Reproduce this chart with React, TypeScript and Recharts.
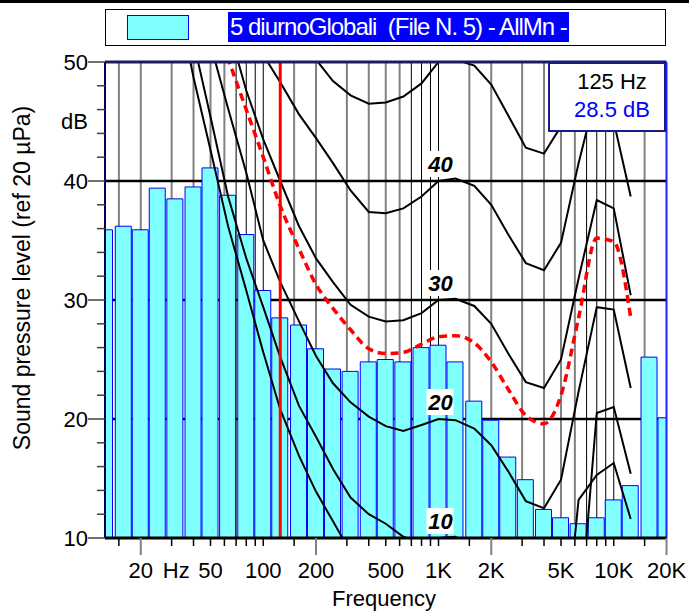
import React from "react";
import {
  ComposedChart,
  Bar,
  Line,
  XAxis,
  YAxis,
  CartesianGrid,
  ReferenceLine,
  ReferenceDot,
} from "recharts";

// 1/3 octave band centres (Hz)
const bands = [
  12.5, 16, 20, 25, 31.5, 40, 50, 63, 80, 100, 125, 160, 200, 250, 315, 400, 500,
  630, 800, 1000, 1250, 1600, 2000, 2500, 3150, 4000, 5000, 6300, 8000, 10000,
  12500, 16000, 20000,
];

// measured spectrum (dB)
const levels = [
  35.9, 36.2, 35.9, 39.4, 38.5, 39.5, 41.1, 38.8, 35.5, 30.8, 28.5, 27.9, 25.9,
  24.2, 24.0, 24.8, 25.0, 24.8, 26.0, 26.2, 24.8, 21.5, 19.9, 16.8, 14.9, 12.4,
  11.7, 11.2, 11.7, 13.2, 14.4, 25.2, 20.1,
];

// equal loudness contours (dB), same band order
const phon0 = [
  null, null, null, null, 56.2, 48.7, 42.6, 36.2, 30.8, 25.6, 20.8, 16.9, 13.9,
  11.4, 8.8, 6.5, 4.5, 3.0, 2.2, 2.4, 3.5, 1.7, -1.3, -4.2, -6.0, -5.4, -1.5,
  13.2, 15.3, 16.3, 11.6, null, null,
];
const phon10 = [
  null, null, null, null, 58, 51.7, 45.4, 38.7, 33.5, 29.4, 25.2, 21.1, 18.5,
  15.8, 13.4, 12.0, 11.2, 10.1, 9.6, 10.0, 10.1, 9.2, 7.8, 5.5, 3.0, 2.5, 5.0,
  2.0, 20.5, 21.0, 15.4, null, null,
];
const phon20 = [
  null, null, null, null, null, 57, 51.5, 46.1, 40.7, 35.0, 31.5, 28.2, 25.3,
  23.0, 21.4, 20.2, 19.4, 19.0, 19.5, 20.0, 19.9, 19.2, 17.8, 15.6, 13.1, 12.5,
  14.9, 22.3, 29.4, 29.2, 22.6, null, null,
];
const phon30 = [
  null, null, null, null, null, null, 58, 53, 47.6, 43.5, 40.0, 36.2, 33.5, 31.5,
  29.6, 28.6, 28.2, 28.3, 28.9, 30.0, 30.1, 29.5, 28.0, 25.5, 23.1, 22.6, 25.0,
  31.8, 38.4, 37.7, 30.4, null, null,
];
const phon40 = [
  null, null, null, null, null, null, null, 62, 56, 50.6, 48.3, 45.6, 43.6, 41.5,
  39.2, 37.4, 37.3, 37.7, 38.7, 40.0, 40.2, 39.6, 38.0, 35.5, 33.1, 32.5, 34.8,
  41.5, 47.6, 45.0, 38.7, null, null,
];
const phon50 = [
  null, null, null, null, null, null, null, null, null, null, 57, 53, 50.2, 48.4,
  47.2, 46.5, 46.6, 47.1, 48.2, 50.0, 50.2, 49.7, 48.1, 45.5, 42.8, 42.3, 44.6,
  51.5, 57, 55, 48.5, null, null,
];
// reference curve (red dashed)
const redCurve = [
  null, null, null, null, null, null, 54.6, 50.3, 46.0, 42.0, 37.9, 34.3, 31.3,
  29.3, 27.5, 25.9, 25.5, 25.6, 26.3, 26.9, 27.0, 26.4, 24.8, 22.5, 20.3, 19.6,
  22.0, 28.5, 35.2, 34.9, 28.5, null, null,
];

const contourKeys = ["p0", "p10", "p20", "p30", "p40", "p50"];
const labelledPhons = [10, 20, 30, 40];

const xTicks = [
  15, 20, 30, 40, 50, 60, 70, 80, 90, 100, 150, 200, 300, 400, 500, 600, 700, 800,
  900, 1000, 1500, 2000, 3000, 4000, 5000, 6000, 7000, 8000, 9000, 10000, 15000,
  20000,
];
const xLabelValues = [20, 50, 100, 200, 500, 1000, 2000, 5000, 10000, 20000];
const xLabelTexts = ["20", "50", "100", "200", "500", "1K", "2K", "5K", "10K", "20K"];
const longTicks = [20, 200, 2000, 20000];
const gridGray = [
  15, 20, 30, 40, 50, 60, 150, 200, 300, 400, 500, 600, 1500, 2000, 3000, 4000,
  5000, 6000, 15000,
];
const gridDark = [70, 80, 90, 100, 700, 800, 900, 1000, 7000, 8000, 9000, 10000];
const yTicks = [
  10, 12, 14, 16, 18, 20, 22, 24, 26, 28, 30, 32, 34, 36, 38, 40, 42, 44, 45, 46,
  48, 50,
];

const seriesName = "5 diurnoGlobali  (File N. 5) - AllMn -";
const cursorFreq = 125;

const data = bands.map((f, i) => ({
  f,
  level: levels[i],
  p0: phon0[i],
  p10: phon10[i],
  p20: phon20[i],
  p30: phon30[i],
  p40: phon40[i],
  p50: phon50[i],
  red: redCurve[i],
}));

const FONT = "'Liberation Sans', Arial, sans-serif";

function FreqTick({ x, y, v }: { x: number; y: number; v: number }) {
  const i = xLabelValues.indexOf(v);
  const long = longTicks.includes(v);
  return (
    <g>
      <line
        x1={x}
        x2={x}
        y1={y}
        y2={y + (long ? 17 : 8)}
        stroke={long ? "#808080" : "#000"}
        strokeWidth={long ? 2 : 1.5}
      />
      {i >= 0 && v === 20 && (
        <g fontFamily={FONT} fontSize={22} fill="#000">
          <text x={x} y={y + 40} textAnchor="middle">20</text>
          <text x={x + 22} y={y + 40}>Hz</text>
        </g>
      )}
      {i >= 0 && v !== 20 && (
        <text x={x} y={y + 40} textAnchor="middle" fontFamily={FONT} fontSize={22} fill="#000">
          {xLabelTexts[i]}
        </text>
      )}
    </g>
  );
}

function LevelTick({ x, y, v }: { x: number; y: number; v: number }) {
  if (v === 45) {
    return (
      <text x={x - 17} y={y} dy="0.36em" textAnchor="end" fontFamily={FONT} fontSize={22} fill="#000">
        dB
      </text>
    );
  }
  const major = v % 10 === 0;
  return (
    <g>
      <line x1={x - (major ? 17 : 8)} x2={x} y1={y} y2={y} stroke="#404040" strokeWidth={1.5} />
      {major && (
        <text x={x - 17} y={y} dy="0.36em" textAnchor="end" fontFamily={FONT} fontSize={22} fill="#000">
          {v}
        </text>
      )}
    </g>
  );
}

function PhonTag(props: any) {
  const { cx, cy, text } = props;
  const top = cy - 17;
  return (
    <g>
      <rect x={cx - 12} y={top - 13} width={27} height={26} fill="#fff" />
      <text
        x={cx + 2}
        y={top}
        dy="0.36em"
        textAnchor="middle"
        fontFamily={FONT}
        fontSize={22}
        fontWeight="bold"
        fontStyle="italic"
        fill="#000"
      >
        {text}
      </text>
    </g>
  );
}

export default function App() {
  const cursorLevel = levels[bands.indexOf(cursorFreq)];
  return (
    <div
      style={{
        position: "absolute",
        left: 0,
        top: 0,
        width: 689,
        height: 616,
        background: "#fff",
        fontFamily: FONT,
        overflow: "hidden",
      }}
    >
      <div style={{ position: "absolute", left: 0, top: 0, width: 689, height: 3, background: "#000" }} />

      <div
        style={{
          position: "absolute",
          left: 105,
          top: 9,
          width: 561,
          height: 37,
          border: "1px solid #000",
          boxSizing: "border-box",
          background: "#fff",
        }}
      >
        <div
          style={{
            position: "absolute",
            left: 21,
            top: 5,
            width: 62,
            height: 25,
            background: "#80FFFF",
            border: "1px solid #0000FF",
            boxSizing: "border-box",
          }}
        />
        <div
          style={{
            position: "absolute",
            left: 122,
            top: 2,
            height: 30,
            lineHeight: "30px",
            background: "#0000FF",
            color: "#fff",
            fontSize: 24,
            letterSpacing: -1,
            whiteSpace: "pre",
            padding: "0 2px",
          }}
        >
          {seriesName}
        </div>
      </div>

      <ComposedChart
        width={689}
        height={616}
        data={data}
        margin={{ top: 62, right: 22.5, bottom: 0, left: 0 }}
      >
        <CartesianGrid horizontal={false} verticalValues={gridGray} stroke="#808080" strokeWidth={2} />
        <CartesianGrid horizontal={false} verticalValues={gridDark} stroke="#000" strokeWidth={1} />
        <CartesianGrid vertical={false} horizontalValues={[20, 30, 40]} stroke="#000" strokeWidth={2.5} />
        <XAxis
          dataKey="f"
          type="number"
          scale="log"
          domain={[12.5, 20000]}
          allowDataOverflow
          ticks={xTicks}
          interval={0}
          tick={(p: any) => <FreqTick x={p.x} y={p.y} v={p.payload.value} />}
          tickSize={0}
          tickMargin={0}
          tickLine={false}
          axisLine={{ stroke: "#000", strokeWidth: 3 }}
          height={78}
        />
        <YAxis
          type="number"
          domain={[10, 50]}
          allowDataOverflow
          ticks={yTicks}
          interval={0}
          tick={(p: any) => <LevelTick x={p.x} y={p.y} v={p.payload.value} />}
          tickSize={0}
          tickMargin={0}
          tickLine={false}
          axisLine={{ stroke: "#000060", strokeWidth: 2 }}
          width={105}
        />
        <Bar
          dataKey="level"
          fill="#80FFFF"
          stroke="#0000FF"
          strokeWidth={1}
          barSize={16}
          isAnimationActive={false}
        />
        {contourKeys.map((k) => (
          <Line
            key={k}
            dataKey={k}
            type="linear"
            stroke="#000"
            strokeWidth={2}
            dot={false}
            isAnimationActive={false}
          />
        ))}
        <Line
          dataKey="red"
          type="monotone"
          stroke="#FF0000"
          strokeWidth={3.5}
          strokeDasharray="8 5"
          dot={false}
          isAnimationActive={false}
        />
        <ReferenceLine x={cursorFreq} stroke="#FF0000" strokeWidth={3} />
        <ReferenceLine y={50} stroke="#1c1c5c" strokeWidth={3} />
        <ReferenceLine x={20000} stroke="#2020ff" strokeWidth={2} />
        {labelledPhons.map((p) => (
          <ReferenceDot key={p} x={1000} y={p} r={0} shape={<PhonTag text={p} />} />
        ))}
      </ComposedChart>

      <div
        style={{
          position: "absolute",
          left: 384,
          top: 586,
          transform: "translateX(-50%)",
          fontSize: 22,
          color: "#000",
          whiteSpace: "nowrap",
        }}
      >
        Frequency
      </div>
      <div
        style={{
          position: "absolute",
          left: 22,
          top: 278,
          transform: "translate(-50%, -50%) rotate(-90deg)",
          fontSize: 23,
          color: "#000",
          whiteSpace: "nowrap",
        }}
      >
        Sound pressure level (ref 20 µPa)
      </div>

      <div
        style={{
          position: "absolute",
          left: 548,
          top: 62,
          width: 118,
          height: 70,
          border: "2px solid #1a1a8c",
          boxSizing: "border-box",
          background: "#fff",
          fontSize: 22,
          textAlign: "center",
          paddingLeft: 10,
        }}
      >
        <div style={{ color: "#000", lineHeight: "26px", marginTop: 5 }}>{cursorFreq} Hz</div>
        <div style={{ color: "#0000FF", lineHeight: "26px", marginTop: 2 }}>{cursorLevel.toFixed(1)} dB</div>
      </div>
    </div>
  );
}
